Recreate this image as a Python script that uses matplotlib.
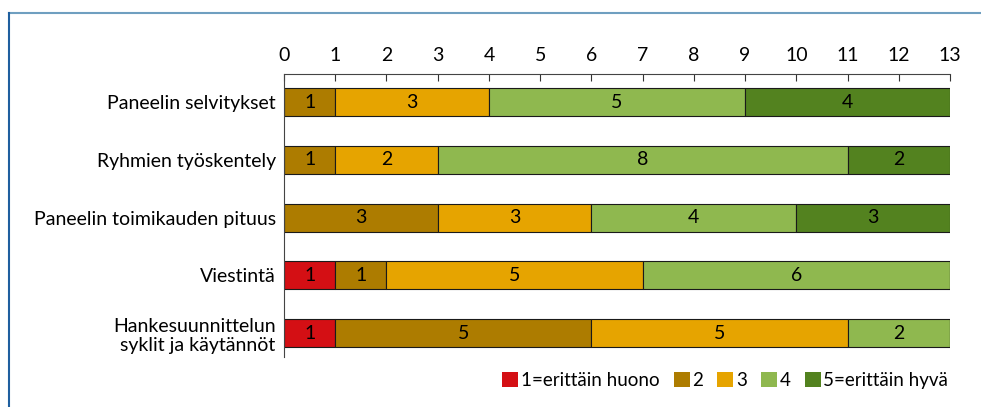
import matplotlib.pyplot as plt
from matplotlib.lines import Line2D
from matplotlib.patches import Patch
import numpy as np

categories = ["Paneelin selvitykset", "Ryhmien työskentely", "Paneelin toimikauden pituus",
              "Viestintä", "Hankesuunnittelun\nsyklit ja käytännöt"]
series_names = ["1=erittäin huono", "2", "3", "4", "5=erittäin hyvä"]
values = np.array([
    [0, 1, 3, 5, 4],
    [0, 1, 2, 8, 2],
    [0, 3, 3, 4, 3],
    [1, 1, 5, 6, 0],
    [1, 5, 5, 2, 0],
])
colors = ["#d40f14", "#ad7c00", "#e6a400", "#8fb84f", "#53821f"]
ticks = list(range(0, 14))

plt.rcParams['font.family'] = ['Lato', 'DejaVu Sans']

fig = plt.figure(figsize=(9.81, 4.07), dpi=100)
ax = fig.add_axes([0.2895, 0.1229, 0.6789, 0.6953])

y = np.arange(len(categories))
left = np.zeros(len(categories))
for j in range(values.shape[1]):
    v = values[:, j]
    ax.barh(y, v, left=left, height=0.485, color=colors[j],
            edgecolor="#1a1a1a", linewidth=0.8)
    for i in range(len(categories)):
        if v[i] > 0:
            ax.text(left[i] + v[i] / 2, y[i], str(v[i]), ha="center", va="center",
                    fontsize=14, color="black")
    left += v

ax.set_xlim(0, 13)
ax.set_ylim(4.415, -0.485)
ax.set_xticks(ticks)
ax.set_yticks(y)
ax.set_yticklabels(categories, fontsize=14, linespacing=1.2)
ax.xaxis.tick_top()
ax.tick_params(axis="x", direction="in", length=5, width=0.8, labelsize=14, pad=7, color="#333333")
ax.tick_params(axis="y", length=0, pad=6)
for s in ["right", "bottom"]:
    ax.spines[s].set_visible(False)
ax.spines["top"].set_color("#444444")
ax.spines["left"].set_color("#444444")

handles = [Patch(facecolor=c, edgecolor="none") for c in colors]
fig.legend(handles, series_names, loc="center right", bbox_to_anchor=(0.98, 0.064), ncol=5,
           frameon=False, fontsize=13.5, handlelength=0.85, handleheight=0.85,
           handletextpad=0.15, columnspacing=0.75, borderpad=0.2)

# outer frame lines
fig.add_artist(Line2D([9 / 981, 1], [1 - 13 / 407, 1 - 13 / 407], color="#6f9fc0", lw=1.5))
fig.add_artist(Line2D([9 / 981, 9 / 981], [0, 1 - 13 / 407], color="#1f5f9f", lw=1.5))

fig.savefig("out.png", dpi=100)
